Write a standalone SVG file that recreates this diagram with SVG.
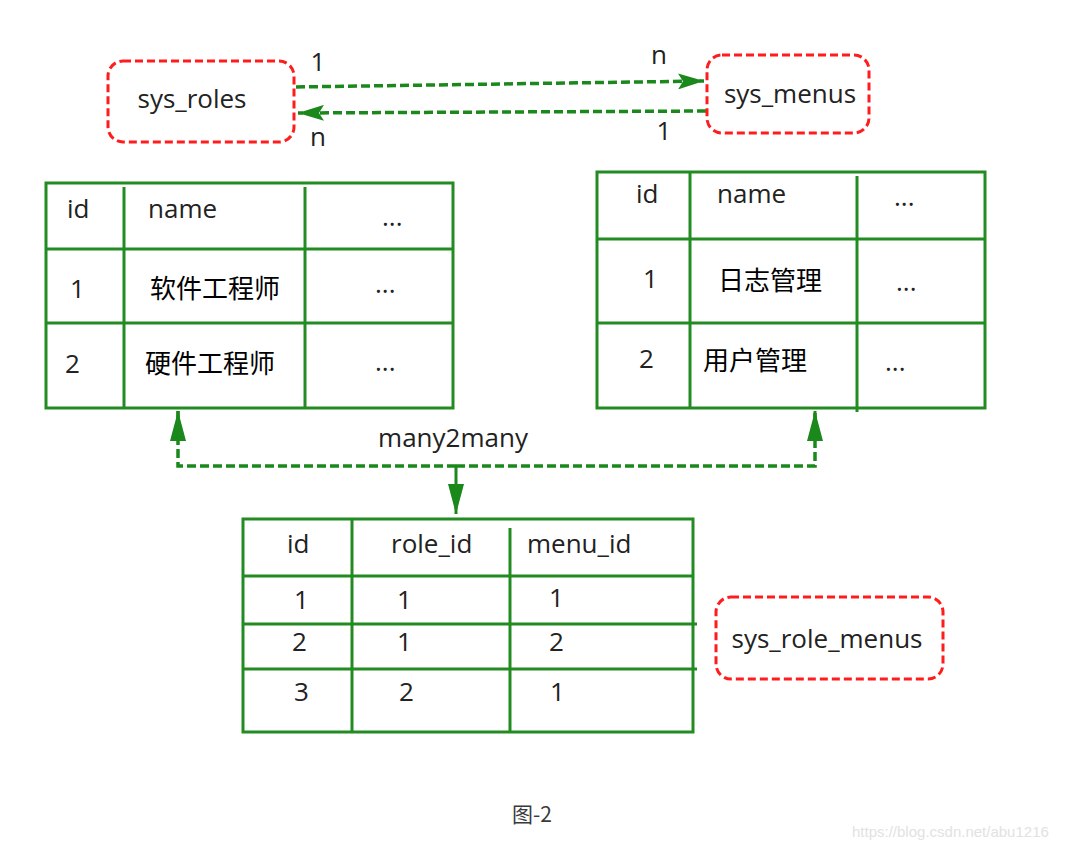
<svg xmlns="http://www.w3.org/2000/svg" width="1068" height="850" viewBox="0 0 1068 850">
<defs>
<style>
.bg{fill:#fff}
.ent{fill:none;stroke:#ff1c1c;stroke-width:3;stroke-dasharray:8 4}
.tbl{fill:none;stroke:#228b22;stroke-width:3}
.dash{fill:none;stroke:#1a881a;stroke-width:3.5;stroke-dasharray:9 4}
.solid{fill:none;stroke:#1a881a;stroke-width:3}
.t{font-family:"Open Sans","Noto Sans CJK SC","DejaVu Sans",sans-serif;font-size:26px;fill:#222}
.c{text-anchor:middle}
.lbl{font-size:26px}
.cjk{font-family:"Noto Sans CJK SC","Open Sans",sans-serif;font-size:26px}
.cap{font-family:"Noto Sans CJK SC","Liberation Sans",sans-serif;font-size:21px;fill:#3a3a3a}
.wm{font-family:"Liberation Sans",sans-serif;font-size:15px;fill:#e2e2e2}
</style>
<marker id="ah" markerUnits="userSpaceOnUse" markerWidth="26" markerHeight="16" viewBox="0 0 26 16" refX="26" refY="8" orient="auto">
<path d="M0,0 L26,8 L0,16 L5,8 z" fill="#1a881a"/>
</marker>
<marker id="ahl" markerUnits="userSpaceOnUse" markerWidth="30" markerHeight="16" viewBox="0 0 30 16" refX="30" refY="8" orient="auto">
<path d="M0,0 L30,8 L0,16 z" fill="#1a881a"/>
</marker>
</defs>
<rect class="bg" x="0" y="0" width="1068" height="850"/>

<g id="connectors">
<path class="dash" d="M296,87 L704,81" marker-end="url(#ah)"/>
<path class="dash" d="M706,111 L298,113" marker-end="url(#ah)"/>
<path class="dash" d="M456,466 L178,466 L178,411"/>
<path class="solid" d="M178,440 L178,411" marker-end="url(#ahl)"/>
<path class="dash" d="M456,466 L815,466 L815,411"/>
<path class="solid" d="M815,440 L815,411" marker-end="url(#ahl)"/>
<path class="solid" d="M456,466 L456,514" marker-end="url(#ahl)"/>
<text class="t c lbl" x="318" y="71">1</text>
<text class="t c lbl" x="659" y="64">n</text>
<text class="t c lbl" x="318" y="146">n</text>
<text class="t c lbl" x="664" y="140">1</text>
<text class="t c" x="453" y="447">many2many</text>
</g>

<g id="sys_roles">
<rect class="ent" x="108" y="61" width="186" height="81" rx="15"/>
<text class="t c" x="192" y="108">sys_roles</text>
</g>

<g id="sys_menus">
<rect class="ent" x="707" y="55" width="162" height="78" rx="15"/>
<text class="t c" x="790" y="103">sys_menus</text>
</g>

<g id="roles_table">
<rect class="tbl" x="46" y="183" width="407" height="225"/>
<line class="tbl" x1="46" y1="249" x2="453" y2="249"/>
<line class="tbl" x1="46" y1="323" x2="453" y2="323"/>
<line class="tbl" x1="124" y1="187" x2="124" y2="408"/>
<line class="tbl" x1="305" y1="187" x2="305" y2="408"/>
<text class="t" x="67" y="218">id</text>
<text class="t" x="148" y="218">name</text>
<text class="t" x="382" y="226">...</text>
<text class="t" x="70" y="298">1</text>
<text class="cjk" x="150" y="298">软件工程师</text>
<text class="t" x="375" y="293">...</text>
<text class="t" x="65" y="373">2</text>
<text class="cjk" x="145" y="373">硬件工程师</text>
<text class="t" x="375" y="371">...</text>
</g>

<g id="menus_table">
<rect class="tbl" x="597" y="172" width="388" height="236"/>
<line class="tbl" x1="597" y1="239" x2="985" y2="239"/>
<line class="tbl" x1="597" y1="323" x2="985" y2="323"/>
<line class="tbl" x1="690" y1="172" x2="690" y2="408"/>
<line class="tbl" x1="857" y1="176" x2="857" y2="412"/>
<text class="t" x="636" y="203">id</text>
<text class="t" x="717" y="203">name</text>
<text class="t" x="894" y="206">...</text>
<text class="t" x="643" y="288">1</text>
<text class="cjk" x="718" y="290">日志管理</text>
<text class="t" x="896" y="291">...</text>
<text class="t" x="639" y="368">2</text>
<text class="cjk" x="703" y="370">用户管理</text>
<text class="t" x="885" y="371">...</text>
</g>

<g id="role_menus_table">
<rect class="tbl" x="243" y="519" width="450" height="213"/>
<line class="tbl" x1="243" y1="576" x2="693" y2="576"/>
<line class="tbl" x1="243" y1="624" x2="697" y2="624"/>
<line class="tbl" x1="243" y1="669" x2="697" y2="669"/>
<line class="tbl" x1="352" y1="519" x2="352" y2="732"/>
<line class="tbl" x1="510" y1="528" x2="510" y2="732"/>
<text class="t" x="287" y="553">id</text>
<text class="t" x="391" y="553">role_id</text>
<text class="t" x="527" y="553">menu_id</text>
<text class="t" x="294" y="609">1</text>
<text class="t" x="397" y="609">1</text>
<text class="t" x="549" y="607">1</text>
<text class="t" x="292" y="651">2</text>
<text class="t" x="397" y="651">1</text>
<text class="t" x="549" y="651">2</text>
<text class="t" x="294" y="701">3</text>
<text class="t" x="399" y="701">2</text>
<text class="t" x="550" y="701">1</text>
</g>

<g id="sys_role_menus">
<rect class="ent" x="716" y="597" width="227" height="82" rx="15"/>
<text class="t c" x="827" y="648">sys_role_menus</text>
</g>

<text class="cap" x="532" y="822" text-anchor="middle">图-2</text>
<text class="wm" x="852" y="837">https://blog.csdn.net/abu1216</text>
</svg>
